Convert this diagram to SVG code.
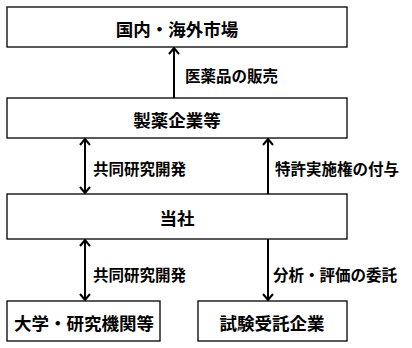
<svg xmlns="http://www.w3.org/2000/svg" width="412" height="348" viewBox="0 0 412 348">
<defs>
<style>
.box{fill:#fff;stroke:#000;stroke-width:1.3}
.nt{font-family:"Noto Sans CJK JP",sans-serif;font-size:17.5px;font-weight:bold;text-anchor:middle;dominant-baseline:central;fill:#000}
.lt{font-family:"Noto Sans CJK JP",sans-serif;font-size:15.5px;font-weight:bold;dominant-baseline:central;fill:#000}
.ln{stroke:#000;stroke-width:2;fill:none}
</style>
<marker id="ah" viewBox="0 0 10 12" refX="9" refY="6" markerWidth="10" markerHeight="12" markerUnits="userSpaceOnUse" orient="auto-start-reverse">
<path d="M3,1 L9,6 L3,11" fill="none" stroke="#000" stroke-width="2"/>
</marker>
</defs>
<rect width="412" height="348" fill="#fff"/>
<g id="connectors">
<line class="ln" x1="174" y1="98" x2="174" y2="48" marker-end="url(#ah)"/>
<text class="lt" x="185" y="75">医薬品の販売</text>
<line class="ln" x1="85" y1="139" x2="85" y2="193" marker-start="url(#ah)" marker-end="url(#ah)"/>
<text class="lt" x="93" y="168">共同研究開発</text>
<line class="ln" x1="268" y1="194" x2="268" y2="139" marker-end="url(#ah)"/>
<text class="lt" x="275" y="168">特許実施権の付与</text>
<line class="ln" x1="85" y1="240" x2="85" y2="300" marker-start="url(#ah)" marker-end="url(#ah)"/>
<text class="lt" x="93" y="274">共同研究開発</text>
<line class="ln" x1="268" y1="239" x2="268" y2="300" marker-end="url(#ah)"/>
<text class="lt" x="273" y="274">分析・評価の委託</text>
</g>
<g id="market"><rect class="box" x="7" y="7" width="340" height="40"/><text class="nt" x="177" y="28">国内・海外市場</text></g>
<g id="pharma"><rect class="box" x="7" y="98" width="340" height="40"/><text class="nt" x="177" y="119">製薬企業等</text></g>
<g id="company"><rect class="box" x="7" y="194" width="340" height="45"/><text class="nt" x="177" y="217">当社</text></g>
<g id="univ"><rect class="box" x="7" y="301" width="153" height="40"/><text class="nt" x="84" y="322">大学・研究機関等</text></g>
<g id="testing"><rect class="box" x="198" y="301" width="149" height="40"/><text class="nt" x="272" y="322">試験受託企業</text></g>
</svg>
